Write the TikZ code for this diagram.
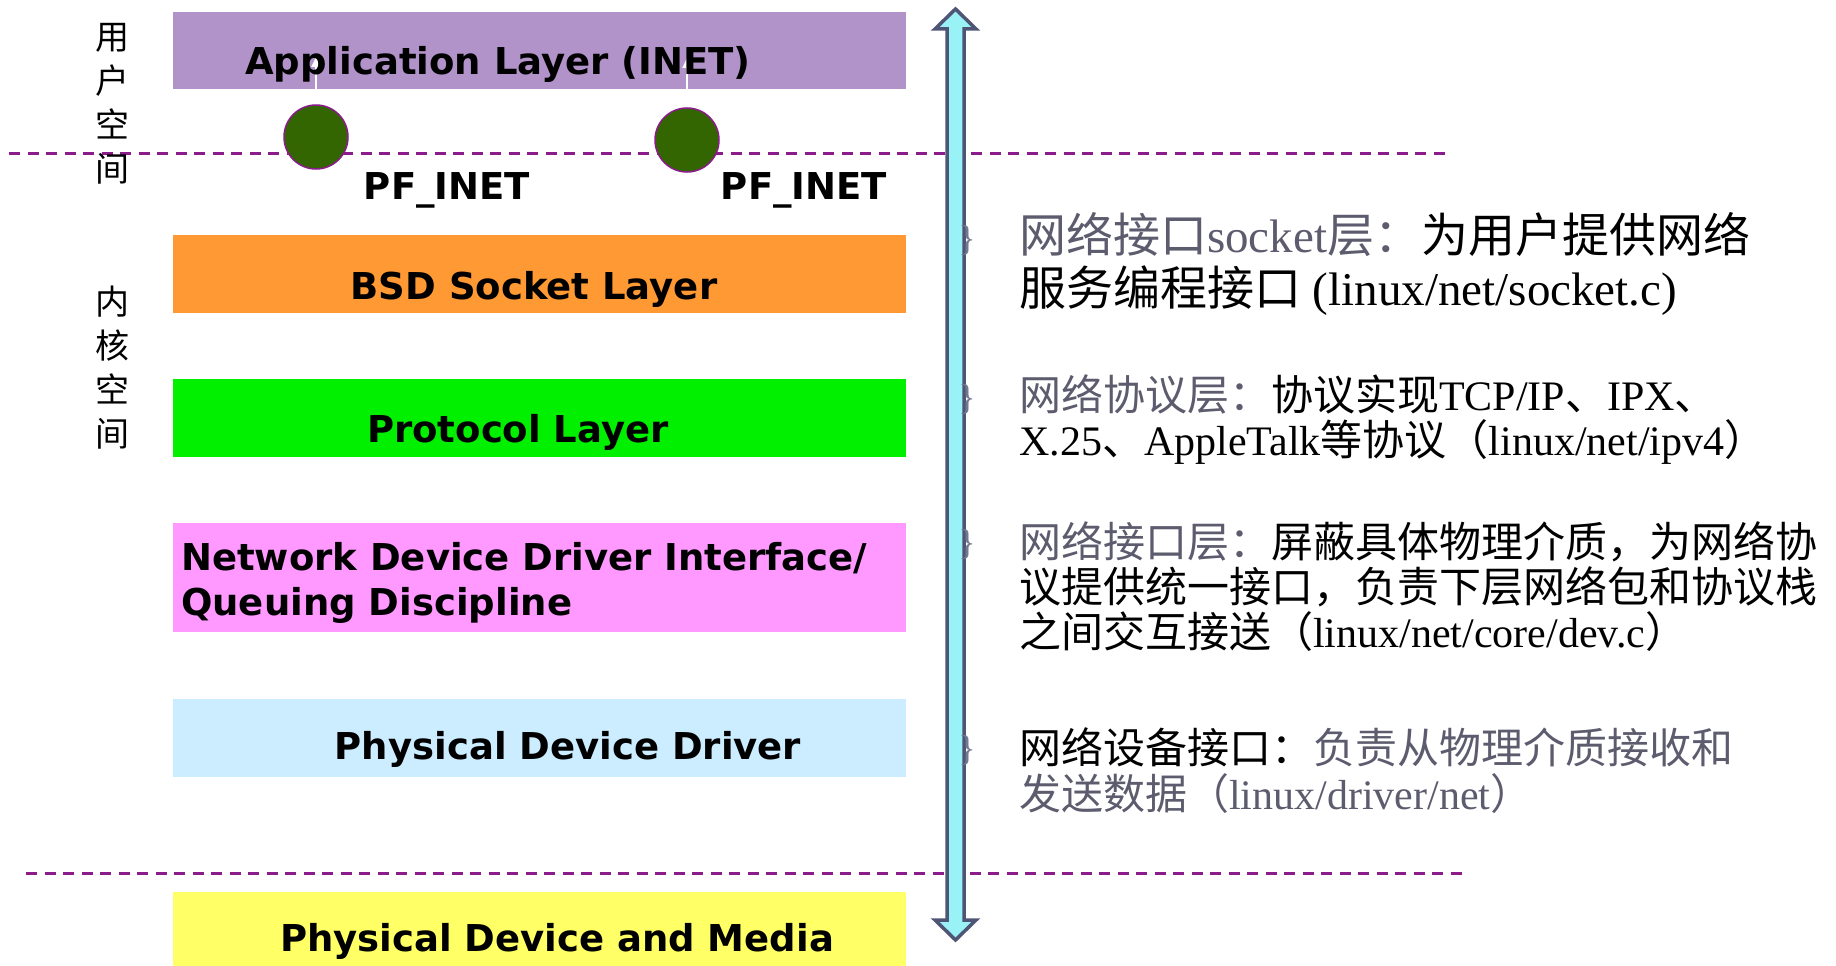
\documentclass[tikz,border=0pt]{standalone}
\usepackage{fontspec}
\setmainfont{Liberation Serif}
\newfontfamily\cjk{Noto Sans CJK SC}
\newfontfamily\boxfont{DejaVu Sans}
\usetikzlibrary{arrows.meta}
\definecolor{appcol}{HTML}{B293C9}
\definecolor{bsdcol}{HTML}{FF9933}
\definecolor{protocol}{HTML}{00F000}
\definecolor{ndcol}{HTML}{FF99FF}
\definecolor{pddcol}{HTML}{CCECFF}
\definecolor{mediacol}{HTML}{FFFF66}
\definecolor{sockcol}{HTML}{336600}
\definecolor{linecol}{HTML}{8B1C8B}
\definecolor{arrowfill}{HTML}{99F3F6}
\definecolor{arrowline}{HTML}{4F5675}
\definecolor{note}{HTML}{5C5C6E}
\newcommand\zh[1]{{\cjk#1}}
\begin{document}
\begin{tikzpicture}[x=1pt,y=-1pt,
    layer/.style={minimum width=733pt,inner sep=0pt,outer sep=0pt},
    lbl/.style={font=\boxfont\bfseries\fontsize{37}{45}\selectfont,inner sep=0pt},
    sock/.style={circle,fill=sockcol,draw=linecol,line width=1.5pt,minimum size=64pt,inner sep=0pt},
    zone/.style={font=\cjk\fontsize{34}{44}\selectfont,align=center,inner sep=0pt},
    note/.style={anchor=west,align=left,inner sep=0pt},
    bullet/.style={text=arrowline!80,font=\fontsize{36}{36}\selectfont,inner sep=0pt},
    split/.style={draw=linecol,line width=3pt,dash pattern=on 11pt off 7.5pt}]
    \useasboundingbox (0,0) rectangle (1836,966);
    \node[layer,fill=appcol,minimum height=77pt] (app) at (539.5,50.5) {};
    \node[layer,fill=bsdcol,minimum height=78pt] (bsd) at (539.5,274) {};
    \node[layer,fill=protocol,minimum height=78pt] (proto) at (539.5,418) {};
    \node[layer,fill=ndcol,minimum height=109pt] (nddi) at (539.5,577.5) {};
    \node[layer,fill=pddcol,minimum height=78pt] (pdd) at (539.5,738) {};
    \node[layer,fill=mediacol,minimum height=74pt] (media) at (539.5,929) {};
    \coordinate (u1) at (9,153);
    \coordinate (u2) at (1452,153);
    \coordinate (k1) at (26,873);
    \coordinate (k2) at (1467,873);
    \draw[split] (u1)--(u2);
    \draw[split] (k1)--(k2);
    \draw[arrowline,fill=arrowfill,line width=3.5pt,line join=miter]
        (955.5,9)--(976,29)--(964,29)--(964,920)--(976,920)--(955.5,940)
        --(935,920)--(947,920)--(947,29)--(935,29)--cycle;
    \node[sock] (sockA) at (316,137) {};
    \node[sock] (sockB) at (687,140) {};
    \coordinate (upA) at (316,57);
    \coordinate (upB) at (687,58);
    \draw[white,line width=2pt,-{Triangle[width=9pt,length=10pt]}] (sockA.north)--(upA);
    \draw[white,line width=2pt,-{Triangle[width=9pt,length=10pt]}] (sockB.north)--(upB);
    \node[lbl] (appt) at (498,64) {Application Layer (INET)};
    \node[lbl] (pfA) at (447,190) {PF\_INET};
    \node[lbl] (pfB) at (804,190) {PF\_INET};
    \node[lbl] (bsdt) at (534,289) {BSD Socket Layer};
    \node[lbl] (protot) at (518,432) {Protocol Layer};
    \node[lbl,align=left,anchor=west] (nddit) at (181,583) {Network Device Driver Interface/\\Queuing Discipline};
    \node[lbl] (pddt) at (568,749) {Physical Device Driver};
    \node[lbl] (mediat) at (557,941) {Physical Device and Media};
    \node[zone] (user) at (112,103.5) {用\\户\\空\\间};
    \node[zone] (kern) at (112,368) {内\\核\\空\\间};
    \node[bullet] (b1) at (967,240) {\}};
    \node[bullet] (b2) at (967,399) {\}};
    \node[bullet] (b3) at (967,544) {\}};
    \node[bullet] (b4) at (967,750) {\}};
    \node[note,font=\fontsize{47}{53}\selectfont] (n1) at (1019,264)
        {{\color{note}\zh{网络接口}socket\zh{层：}}\zh{为用户提供网络}\\\zh{服务编程接口} (linux/net/socket.c)};
    \node[note,font=\fontsize{42}{45.5}\selectfont] (n2) at (1019,419.5)
        {{\color{note}\zh{网络协议层：}}\zh{协议实现}TCP/IP\zh{、}IPX\zh{、}\\X.25\zh{、}AppleTalk\zh{等协议（}linux/net/ipv4\zh{）}};
    \node[note,font=\fontsize{42}{45}\selectfont] (n3) at (1019,587)
        {{\color{note}\zh{网络接口层：}}\zh{屏蔽具体物理介质，为网络协}\\\zh{议提供统一接口，负责下层网络包和协议栈}\\\zh{之间交互接送（}linux/net/core/dev.c\zh{）}};
    \node[note,font=\fontsize{42}{46}\selectfont] (n4) at (1019,771)
        {\zh{网络设备接口：}{\color{note}\zh{负责从物理介质接收和}}\\{\color{note}\zh{发送数据（}linux/driver/net\zh{）}}};
\end{tikzpicture}
\end{document}
